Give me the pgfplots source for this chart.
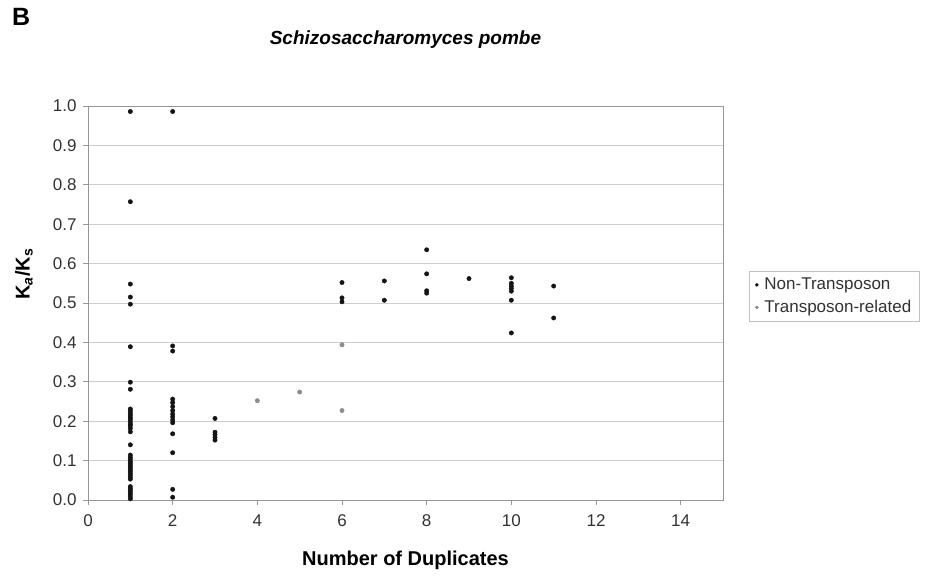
\documentclass[border=0pt]{standalone}
\usepackage{pgfplots}
\pgfplotsset{compat=1.18}
\usepackage{fontspec}
\setmainfont{Liberation Sans}
\definecolor{gridc}{RGB}{205,205,205}
\definecolor{axc}{RGB}{150,150,150}
\definecolor{tickc}{RGB}{50,50,50}
\definecolor{ptblack}{RGB}{20,20,20}
\definecolor{ptgray}{RGB}{140,140,140}
\begin{document}
\begin{tikzpicture}[x=1pt,y=1pt]
\path[use as bounding box] (0pt,0pt) rectangle (926pt,577pt);
\begin{axis}[
  at={(88pt,77pt)}, anchor=south west,
  scale only axis, width=635pt, height=394pt,
  xmin=0, xmax=15, ymin=0, ymax=1,
  xtick={0,2,4,6,8,10,12,14},
  ytick={0,0.1,0.2,0.3,0.4,0.5,0.6,0.7,0.8,0.9,1.0},
  /pgf/number format/assume math mode=true,
  yticklabel style={xshift=-3pt, /pgf/number format/.cd, fixed, fixed zerofill, precision=1},
  ymajorgrids, grid style={gridc, line width=0.8pt},
  axis line style={axc, line width=0.8pt},
  tick align=outside, major tick length=5pt,
  tick style={axc, line width=0.8pt},
  xtick pos=bottom, ytick pos=left,
  ticklabel style={font=\fontsize{17}{19}\selectfont, text=tickc},
  xticklabel style={yshift=-6pt, text height=12pt, text depth=0pt},
  legend style={at={(1.041,0.581)}, anchor=north west, draw=gray!50,
    font=\fontsize{17}{20}\selectfont, text=tickc, inner xsep=6pt, inner ysep=5pt,
    row sep=5pt, cells={anchor=west},
    /tikz/every odd column/.append style={column sep=4pt}},
  legend image code/.code={\draw[only marks, mark=*, mark size=1.6pt] plot coordinates {(3pt,0pt)};},
  legend cell align=left,
]
\addplot[only marks, mark=*, mark size=2.2pt, color=ptblack] table {
x y
1 0.986
1 0.757
1 0.548
1 0.515
1 0.497
1 0.389
1 0.299
1 0.281
1 0.231
1 0.226
1 0.220
1 0.215
1 0.210
1 0.205
1 0.199
1 0.193
1 0.189
1 0.182
1 0.173
1 0.140
1 0.114
1 0.108
1 0.103
1 0.097
1 0.093
1 0.088
1 0.083
1 0.078
1 0.073
1 0.068
1 0.063
1 0.057
1 0.053
1 0.034
1 0.029
1 0.024
1 0.019
1 0.014
1 0.008
1 0.003
2 0.986
2 0.391
2 0.378
2 0.256
2 0.247
2 0.237
2 0.227
2 0.218
2 0.211
2 0.203
2 0.196
2 0.168
2 0.120
2 0.027
2 0.007
3 0.207
3 0.172
3 0.166
3 0.159
3 0.152
6 0.552
6 0.513
6 0.503
7 0.556
7 0.507
8 0.635
8 0.574
8 0.531
8 0.525
9 0.562
10 0.564
10 0.550
10 0.543
10 0.537
10 0.530
10 0.507
10 0.424
11 0.543
11 0.462
};
\addlegendentry{Non-Transposon}
\addplot[only marks, mark=*, mark size=2.2pt, color=ptgray] table {
x y
4 0.252
5 0.274
6 0.394
6 0.227
};
\addlegendentry{Transposon-related}
\end{axis}
\node[anchor=north west, inner sep=0pt] at (12pt,569pt) {\fontsize{25}{27}\selectfont\bfseries B};
\node at (405.5pt,537pt) {\fontsize{19}{22}\selectfont\bfseries\itshape Schizosaccharomyces pombe};
\node at (405.5pt,17pt) {\fontsize{20}{22}\selectfont\bfseries Number of Duplicates};
\node[rotate=90] at (24pt,303pt) {\fontsize{20}{22}\selectfont\bfseries K\textsubscript{\itshape a}/K\textsubscript{s}};
\end{tikzpicture}
\end{document}
